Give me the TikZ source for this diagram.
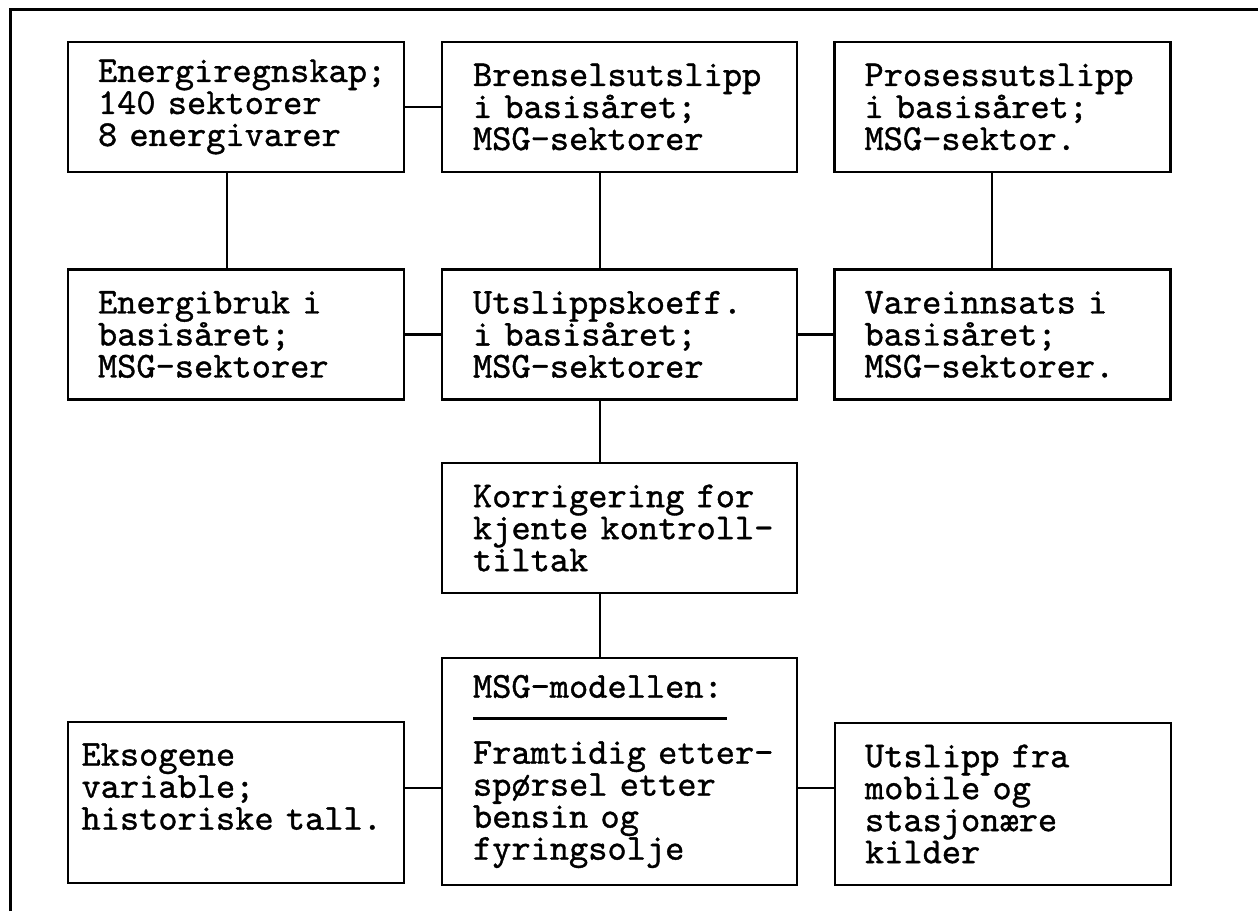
\documentclass[tikz,border=0pt]{standalone}
\usepackage{fontspec}
\usepackage{tikz}

\newfontfamily\boxface{lmmono10-regular.otf}[FakeBold=1.0, HyphenChar=None]
\newcommand{\boxfont}{\fontsize{18.3}{16}\selectfont\boxface\exhyphenpenalty=10000 }

\tikzset{
	box/.style={draw, line width=1.4pt, align=left, font=\boxfont, inner sep=0pt, minimum height=65pt},
	sidebox/.style={box, minimum width=168pt, text width=138pt},
	midbox/.style={box, minimum width=177.5pt, text width=146.5pt},
	link/.style={line width=1.2pt}
}

\begin{document}
\begin{tikzpicture}[x=0.5pt,y=-0.5pt]
\useasboundingbox (0,0) rectangle (1258,911);

% outer frame
\draw[line width=1.5pt] (10,911) -- (10,9) -- (1258,9);

% first row
\node[sidebox] (regnskap) at (236,107) {Energiregnskap;\\140 sektorer\\8 energivarer};
\node[midbox] (brensel) at (619.5,107) {Brenselsutslipp\\i basisåret;\\MSG-sektorer};
\node[sidebox] (prosess) at (1002.5,107) {Prosessutslipp\\i basisåret;\\MSG-sektor.};

% second row
\node[sidebox] (energibruk) at (236,334.5) {Energibruk i\\basisåret;\\MSG-sektorer};
\node[midbox] (koeff) at (619.5,334.5) {Utslippskoeff.\\i basisåret;\\MSG-sektorer};
\node[sidebox] (vare) at (1002.5,334.5) {Vareinnsats i\\basisåret;\\MSG-sektorer.};

% middle column
\node[midbox] (korr) at (619.5,528) {Korrigering~for\\kjente~kontroll-\\tiltak};
\node[midbox, minimum height=113.5pt] (msg) at (619.5,771.5)
	{MSG-modellen:\\[-4.75pt]\rule{127pt}{1.5pt}\\[5.75pt]Framtidig~etter-\\spørsel etter\\bensin og\\fyringsolje};

% last row
\node[sidebox, minimum height=80.5pt, text width=154.5pt] (eksogen) at (236,802.5) {Eksogene\\variable;\\historiske~tall.\\\mbox{}};
\node[sidebox, minimum height=81pt] (mobil) at (1003,804) {Utslipp fra\\mobile og\\stasjonære\\kilder};

\coordinate (lowjoin) at (619.5,788);

% connectors
\draw[link] (regnskap) -- (brensel);
\draw[link] (energibruk) -- (koeff);
\draw[link] (koeff) -- (vare);
\draw[link] ([xshift=-4.5pt]regnskap.south) -- ([xshift=-4.5pt]energibruk.north);
\draw[link] ([xshift=-9.75pt]brensel.south) -- ([xshift=-9.75pt]koeff.north);
\draw[link] ([xshift=-5.25pt]prosess.south) -- ([xshift=-5.25pt]vare.north);
\draw[link] ([xshift=-9.75pt]koeff.south) -- ([xshift=-9.75pt]korr.north);
\draw[link] ([xshift=-9.75pt]korr.south) -- ([xshift=-9.75pt]msg.north);
\draw[link] (eksogen.east |- lowjoin) -- (msg.west |- lowjoin);
\draw[link] (msg.east |- lowjoin) -- (mobil.west |- lowjoin);

\end{tikzpicture}
\end{document}
